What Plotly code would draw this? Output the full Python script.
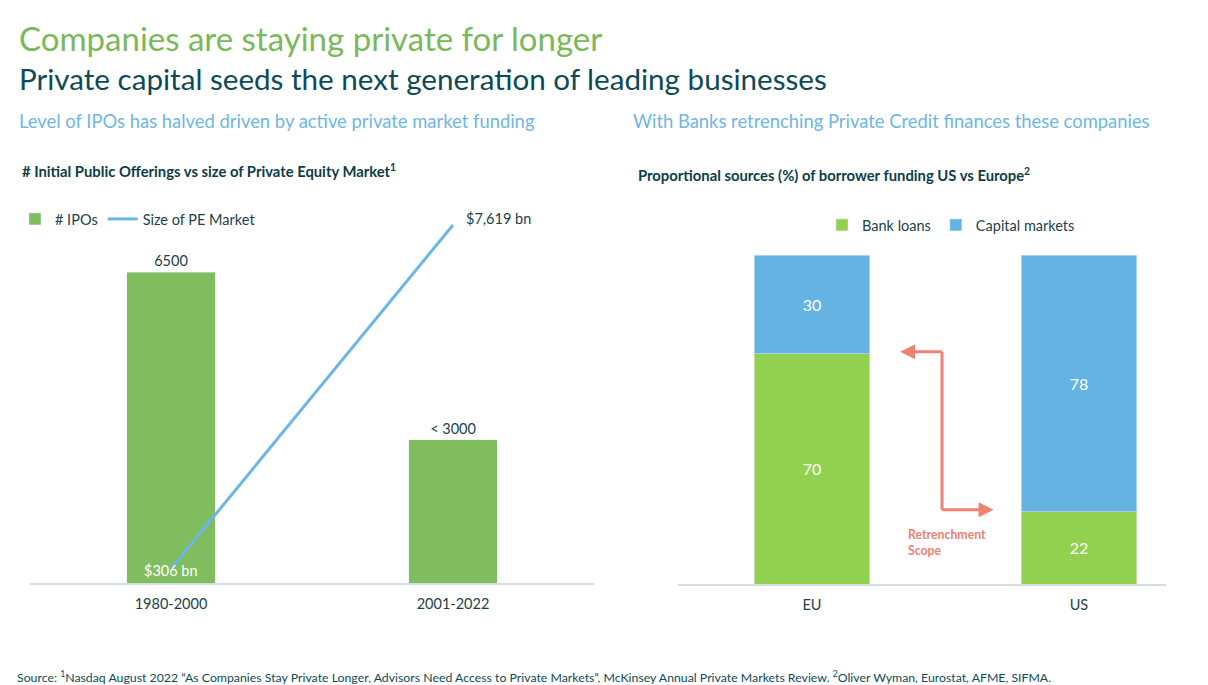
import plotly.graph_objects as go

# left chart data
periods = ["1980-2000", "2001-2022"]
ipos = [6500, 2990]
ipo_labels = ["6500", "< 3000"]
pe_market = [306, 7619]
pe_labels = ["$306 bn", "$7,619 bn"]

# right chart data
regions = ["EU", "US"]
bank_loans = [70, 22]
capital_markets = [30, 78]

# the page puts the figure 8px in from the corner
OFF = 8
W, H = 1200, 677
FONT = "Lato"
TEAL = "#0d4a57"
DARK = "#1c3f4a"
GREEN_L = "#7fbd5f"
BLUE_L = "#6cb6e6"
GREEN_R = "#92d050"
BLUE_R = "#65b3e3"
SALMON = "#ef8173"


def px_x(v):
    return (v - OFF) / W


def px_y(v):
    return 1 - (v - OFF) / H


fig = go.Figure()

fig.add_trace(go.Bar(x=periods, y=ipos, name="# IPOs", marker_color=GREEN_L, width=0.314,
                     text=ipo_labels, textposition="outside", cliponaxis=False,
                     textfont=dict(size=14.5, color=DARK), xaxis="x", yaxis="y", legend="legend"))
fig.add_trace(go.Scatter(x=periods, y=pe_market, name="Size of PE Market", mode="lines",
                         line=dict(color=BLUE_L, width=3), xaxis="x", yaxis="y2", legend="legend"))

fig.add_trace(go.Bar(x=regions, y=bank_loans, name="Bank loans", marker_color=GREEN_R, width=0.434,
                     text=bank_loans, textposition="inside", insidetextanchor="middle",
                     textfont=dict(size=16, color="white"), xaxis="x2", yaxis="y3", legend="legend2"))
fig.add_trace(go.Bar(x=regions, y=capital_markets, name="Capital markets", marker_color=BLUE_R, width=0.434,
                     text=capital_markets, textposition="inside", insidetextanchor="middle",
                     textfont=dict(size=16, color="white"), xaxis="x2", yaxis="y3", legend="legend2"))

axis_common = dict(showgrid=False, zeroline=False, showline=True, linecolor="#d3dde4", linewidth=1.5,
                   ticks="", ticklabelstandoff=7, tickfont=dict(size=14.5, color=DARK), fixedrange=True)

fig.update_layout(
    width=W, height=H,
    margin=dict(l=0, r=0, t=0, b=0),
    paper_bgcolor="white", plot_bgcolor="white",
    font=dict(family=FONT, color=DARK),
    barmode="stack",
    xaxis=dict(domain=[px_x(30), px_x(594)], range=[-0.5, 1.5], anchor="y", **axis_common),
    yaxis=dict(domain=[px_y(583), px_y(200)], range=[0, 8005], visible=False),
    yaxis2=dict(overlaying="y", range=[0, 8150], visible=False),
    xaxis2=dict(domain=[px_x(678), px_x(1166)], range=[-0.502, 1.326], anchor="y3", **axis_common),
    yaxis3=dict(domain=[px_y(584), px_y(255)], range=[0, 100], visible=False, anchor="x2"),
    legend=dict(orientation="h", x=px_x(15), y=px_y(219), yanchor="middle", xanchor="left",
                font=dict(size=14.5, color=DARK), bgcolor="rgba(0,0,0,0)", itemwidth=30,
                traceorder="normal"),
    legend2=dict(orientation="h", x=px_x(822), y=px_y(225), yanchor="middle", xanchor="left",
                 font=dict(size=14.5, color=DARK), bgcolor="rgba(0,0,0,0)", itemwidth=30,
                 traceorder="normal"),
    showlegend=True,
)

# labels on the PE market line
fig.add_annotation(xref="x", yref="y2", x=periods[0], y=pe_market[0], text=pe_labels[0],
                   showarrow=False, xanchor="center", yanchor="middle", yshift=-2,
                   font=dict(size=14.5, color="white"))
fig.add_annotation(xref="x", yref="y2", x=periods[1], y=pe_market[1], text=pe_labels[1],
                   showarrow=False, xanchor="left", yanchor="middle", xshift=11, yshift=6,
                   font=dict(size=14.5, color=DARK))

texts = [
    ("Companies are staying private for longer", 17, 38, 33, "#7ab85a", False),
    ("Private capital seeds the next generation of leading businesses", 17, 78, 29.6, TEAL, False),
    ("Level of IPOs has halved driven by active private market funding", 17, 121, 18.4, "#6fb6e6", False),
    ("With Banks retrenching Private Credit finances these companies", 631, 121, 18.4, "#6fb6e6", False),
    ("# Initial Public Offerings vs size of Private Equity Market<sup>1</sup>", 20, 171, 14.8, "#0b3d48", True),
    ("Proportional sources (%) of borrower funding US vs Europe<sup>2</sup>", 636, 174, 14.8, "#0b3d48", True),
    ("Source: <sup>1</sup>Nasdaq August 2022 \u201cAs Companies Stay Private Longer, Advisors Need Access to "
     "Private Markets\u201d, McKinsey Annual Private Markets Review. <sup>2</sup>Oliver Wyman, Eurostat, AFME, SIFMA.",
     15, 677, 12.3, TEAL, False),
]
for txt, x, y, size, color, bold in texts:
    fig.add_annotation(text=f"<b>{txt}</b>" if bold else txt, xref="paper", yref="paper",
                       x=px_x(x), y=px_y(y), xanchor="left", yanchor="middle", showarrow=False,
                       font=dict(size=size, color=color))

# retrenchment arrow (right chart, data coords)
elbow_x = 0.487
fig.add_shape(type="line", xref="x2", yref="y3", x0=elbow_x, x1=elbow_x, y0=70.6, y1=22.6,
              line=dict(color=SALMON, width=3))
fig.add_annotation(xref="x2", yref="y3", x=0.33, y=70.6, axref="x2", ayref="y3", ax=elbow_x + 0.005, ay=70.6,
                   text="", showarrow=True, arrowhead=2, arrowsize=1, arrowwidth=3, arrowcolor=SALMON)
fig.add_annotation(xref="x2", yref="y3", x=0.68, y=22.6, axref="x2", ayref="y3", ax=elbow_x - 0.005, ay=22.6,
                   text="", showarrow=True, arrowhead=2, arrowsize=1, arrowwidth=3, arrowcolor=SALMON)
fig.add_annotation(xref="paper", yref="paper", x=px_x(906), y=px_y(542), xanchor="left", yanchor="middle",
                   align="left", showarrow=False, text="<b>Retrenchment<br>Scope</b>",
                   font=dict(size=12.3, color=SALMON))

fig.write_html("out.html")
